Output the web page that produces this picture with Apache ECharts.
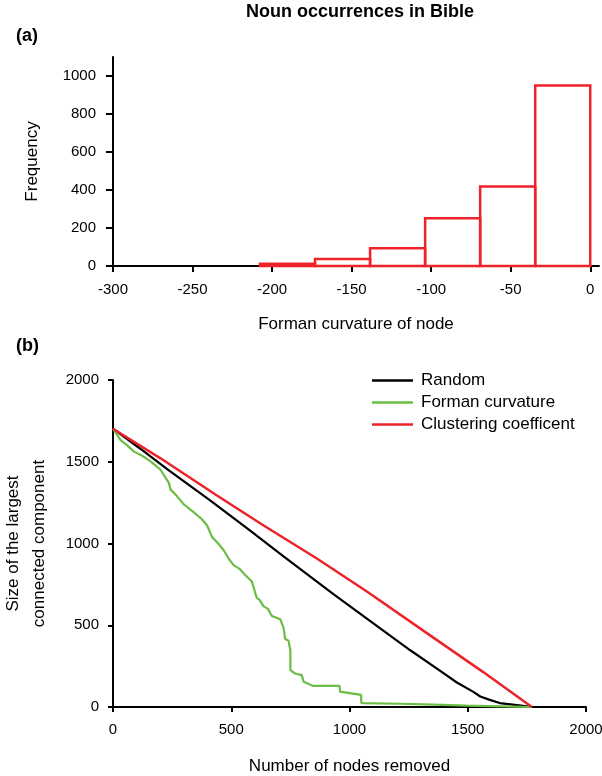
<!DOCTYPE html>
<html>
<head>
<meta charset="utf-8">
<script src="https://cdn.jsdelivr.net/npm/echarts@6/dist/echarts.min.js"></script>
<style>
  html, body { margin: 0; padding: 0; background: #fff; }
  #main { width: 602px; height: 776px; }
</style>
</head>
<body>
<div id="main"></div>
<script>
// (a) histogram: bin edges and counts
var binEdges = [-207.6, -173, -138.4, -103.8, -69.2, -34.6, 0];
var binCounts = [12, 37, 94, 251, 419, 950];
var histXTicks = [-300, -250, -200, -150, -100, -50, 0];
var histYTicks = [0, 200, 400, 600, 800, 1000];

// (b) size of largest component vs nodes removed, [x, y]
var randomPts = [[0, 1702], [117, 1578], [229, 1455], [412, 1262], [580, 1078], [721, 922], [932, 690],
    [1072, 542], [1257, 347], [1382, 222], [1454, 150], [1522, 94], [1553, 64], [1590, 45],
    [1635, 24], [1708, 12], [1775, 0]];
var formanPts = [[0, 1702], [32, 1632], [60, 1600], [89, 1562], [125, 1535], [159, 1502], [201, 1451],
    [236, 1371], [243, 1331], [270, 1290], [299, 1240], [342, 1190], [375, 1150], [398, 1110],
    [419, 1039], [445, 1000], [468, 959], [490, 905], [510, 868], [535, 845], [552, 818],
    [587, 768], [608, 667], [620, 655], [636, 617], [655, 600], [672, 557], [707, 537],
    [721, 486], [728, 416], [742, 406], [750, 346], [750, 225], [770, 205], [798, 195],
    [806, 155], [847, 129], [958, 129], [960, 94], [1049, 74], [1050, 24], [1213, 20],
    [1353, 14], [1494, 8], [1771, 0]];
var clusterPts = [[0, 1702], [201, 1521], [433, 1300], [637, 1110], [862, 908], [1072, 708],
    [1353, 426], [1564, 215], [1771, 0]];
var lineXTicks = [0, 500, 1000, 1500, 2000];
var lineYTicks = [0, 500, 1000, 1500, 2000];

var FONT = 'Liberation Sans, Arial, sans-serif';
var chart = echarts.init(document.getElementById('main'));

function plain(v) { return String(v); }

function axisLine() {
    return {show: true, onZero: false, lineStyle: {color: '#000', width: 2}};
}
function axisTick(len, vals) {
    return {show: true, length: len, customValues: vals, lineStyle: {color: '#000', width: 2}};
}
function axisLabel(margin, vals) {
    return {customValues: vals, margin: margin, fontSize: 15, color: '#000', fontFamily: FONT, formatter: plain};
}
var nameStyle = {color: '#000', fontSize: 17, fontFamily: FONT};

var option = {
    animation: false,
    backgroundColor: '#fff',
    title: [
        {text: 'Noun occurrences in Bible', left: 355, top: -2, textAlign: 'center',
            textStyle: {fontSize: 18, fontWeight: 'bold', color: '#000', fontFamily: FONT}},
        {text: '(a)', left: 11, top: 22,
            textStyle: {fontSize: 18, fontWeight: 'bold', color: '#000', fontFamily: FONT}},
        {text: '(b)', left: 11, top: 332,
            textStyle: {fontSize: 18, fontWeight: 'bold', color: '#000', fontFamily: FONT}}
    ],
    legend: {
        orient: 'vertical',
        left: 372,
        top: 372,
        padding: 0,
        itemWidth: 41,
        itemHeight: 2.5,
        itemGap: 5,
        icon: 'rect',
        textStyle: {fontSize: 17, lineHeight: 17, color: '#000', fontFamily: FONT, padding: [0, 0, 0, 3]},
        data: ['Random', 'Forman curvature', 'Clustering coefficent']
    },
    grid: [
        {left: 113, right: 3, top: 57, bottom: 510, outerBoundsMode: 'none', containLabel: false},
        {left: 113, right: 16, top: 380, bottom: 69, outerBoundsMode: 'none', containLabel: false}
    ],
    xAxis: [
        {gridIndex: 0, type: 'value', min: -300, max: 5.5, splitLine: {show: false},
            name: 'Forman curvature of node', nameLocation: 'middle', nameGap: 50, nameTextStyle: nameStyle,
            axisLine: axisLine(), axisTick: axisTick(6, histXTicks), axisLabel: axisLabel(16, histXTicks)},
        {gridIndex: 1, type: 'value', min: 0, max: 2000, splitLine: {show: false},
            name: 'Number of nodes removed', nameLocation: 'middle', nameGap: 51, nameTextStyle: nameStyle,
            axisLine: axisLine(), axisTick: axisTick(5, lineXTicks), axisLabel: axisLabel(15, lineXTicks)}
    ],
    yAxis: [
        {gridIndex: 0, type: 'value', min: 0, max: 1100, splitLine: {show: false},
            name: 'Frequency', nameLocation: 'middle', nameGap: 72, nameTextStyle: nameStyle,
            axisLine: axisLine(), axisTick: axisTick(7, histYTicks), axisLabel: axisLabel(17, histYTicks)},
        {gridIndex: 1, type: 'value', min: 0, max: 2000, splitLine: {show: false},
            name: 'Size of the largest\nconnected component', nameLocation: 'middle', nameGap: 61,
            nameTextStyle: {color: '#000', fontSize: 17, lineHeight: 26, fontFamily: FONT},
            axisLine: axisLine(), axisTick: axisTick(5, lineYTicks), axisLabel: axisLabel(14, lineYTicks)}
    ],
    series: [
        {
            type: 'custom',
            xAxisIndex: 0,
            yAxisIndex: 0,
            data: binCounts.map(function (c, i) { return [binEdges[i], binEdges[i + 1], c]; }),
            encode: {x: [0, 1], y: 2},
            renderItem: function (params, api) {
                var p0 = api.coord([api.value(0), 0]);
                var p1 = api.coord([api.value(1), api.value(2)]);
                return {
                    type: 'rect',
                    shape: {x: p0[0], y: p1[1], width: p1[0] - p0[0], height: p0[1] - p1[1]},
                    style: {fill: 'none', stroke: '#ee2229', lineWidth: 2.5}
                };
            },
            z: 1
        },
        {name: 'Random', type: 'line', xAxisIndex: 1, yAxisIndex: 1, data: randomPts,
            showSymbol: false, symbol: 'none', color: '#000', lineStyle: {width: 2.2, color: '#000'}},
        {name: 'Forman curvature', type: 'line', xAxisIndex: 1, yAxisIndex: 1, data: formanPts,
            showSymbol: false, symbol: 'none', color: '#6abd45', lineStyle: {width: 2.2, color: '#6abd45'}},
        {name: 'Clustering coefficent', type: 'line', xAxisIndex: 1, yAxisIndex: 1, data: clusterPts,
            showSymbol: false, symbol: 'none', color: '#ee2229', lineStyle: {width: 2.5, color: '#ee2229'}}
    ]
};

chart.setOption(option);
</script>
</body>
</html>
